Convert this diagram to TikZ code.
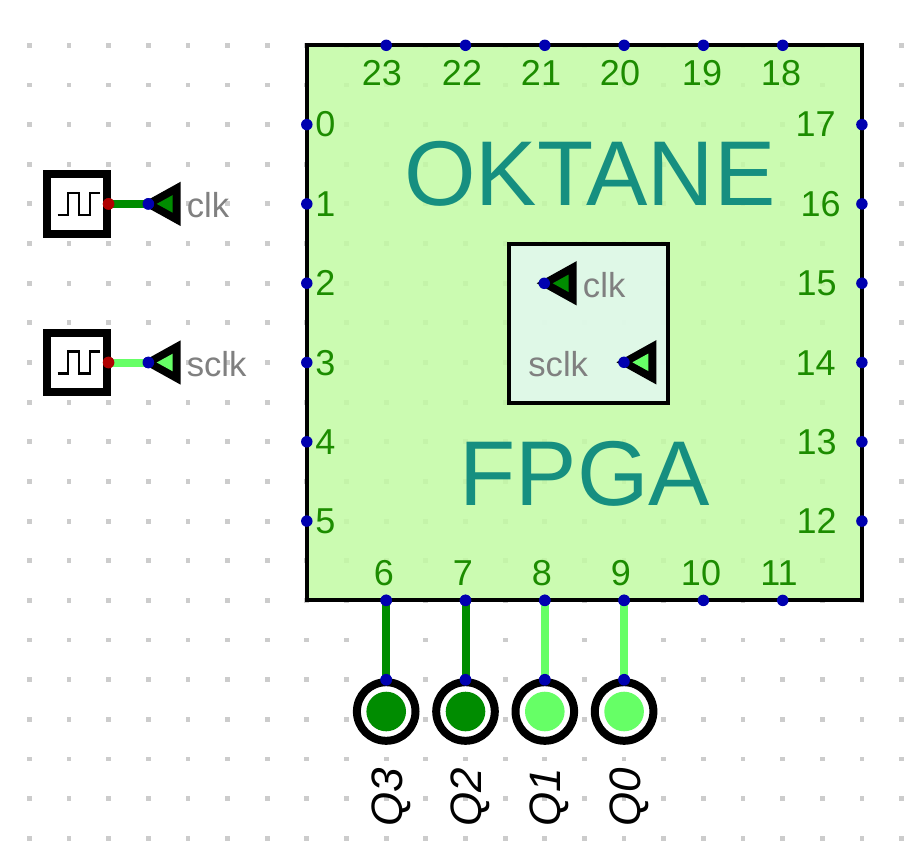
\documentclass[tikz,border=0pt]{standalone}
\usepackage{fontspec}
\setmainfont{Liberation Sans}
\definecolor{dimgrn}{RGB}{0,140,0}
\definecolor{litgrn}{RGB}{102,255,102}
\definecolor{pinblue}{RGB}{0,0,176}
\definecolor{pinred}{RGB}{176,0,0}
\definecolor{bodyfill}{RGB}{195,251,164}
\definecolor{panelfill}{RGB}{227,248,241}
\definecolor{numgrn}{RGB}{28,140,0}
\definecolor{titleteal}{RGB}{22,143,128}
\definecolor{griddot}{RGB}{204,204,204}
\definecolor{tunneltext}{RGB}{128,128,128}
\pgfdeclarelayer{wirelayer}
\pgfsetlayers{wirelayer,main}
\tikzset{
  x=0.75pt,y=-0.75pt,
  pinblue/.style={circle,fill=pinblue,draw=none,inner sep=0,minimum size=8.6pt},
  pinred/.style={circle,fill=pinred,draw=none,inner sep=0,minimum size=8.6pt},
  wire/.style={line width=6pt},
  num/.style={inner sep=0,text=numgrn,font=\fontsize{27}{27}\selectfont},
  title/.style={inner sep=0,anchor=base,text=titleteal,font=\fontsize{69}{69}\selectfont},
  tunlabel/.style={inner sep=0,text=tunneltext,font=\fontsize{26}{26}\selectfont},
  ledlabel/.style={inner sep=0,rotate=90,anchor=base,font=\fontsize{33}{33}\selectfont\itshape},
  pics/tunnel/.style={code={
    \fill[black] (-7.6,0) -- (32.4,-22.2) -- (32.4,22.2) -- cycle;
    \fill[#1] (8.4,0) -- (24.4,-8.8) -- (24.4,8.8) -- cycle;
  }},
  pics/clockgen/.style={code={
    \draw[line width=6pt,fill=white,miter limit=10] (-30,-29.7) rectangle (29.7,29.7);
    \draw[line width=2pt] (-19.5,11) -- (-9,11) -- (-9,-11) -- (2,-11) -- (2,11) -- (13,11) -- (13,-11) -- (23,-11);
  }},
  pics/led/.style={code={
    \draw[line width=6pt,fill=white] (0,0) circle (29.3);
    \fill[#1] (0,0) circle (19.8);
  }}
}
\begin{document}
\begin{tikzpicture}
\useasboundingbox[fill=white] (0,0) rectangle (921,845);
% grid
\foreach \i in {0,...,22}{\foreach \j in {0,...,20}{
  \fill[griddot] ({29.3+39.65*\i-2.4},{45.3+39.65*\j-2.4}) rectangle ++(4.8,4.8);
}}
% FPGA body
\draw[line width=3pt,fill=bodyfill,fill opacity=0.85] (306.8,45.3) rectangle (861.9,600.4);
\draw[line width=3pt,fill=panelfill,fill opacity=0.85] (509.3,243.7) rectangle (668,402.5);
\node[title] (oktane) at (590,205) {OKTANE};
\node[title] (fpga) at (585,505) {FPGA};
% FPGA pins, top
\foreach \n/\x/\lx in {23/386.2/382,22/465.5/462,21/544.8/541,20/624.1/620,19/703.4/702,18/782.7/781}{
  \node[pinblue] (p\n) at (\x,45.3) {};
  \node[num,anchor=base] (l\n) at (\lx,86) {\n};
}
% left
\foreach \n/\y/\ly in {0/124.6/137,1/203.9/216,2/283.2/295,3/362.5/375,4/441.8/454,5/521.1/533}{
  \node[pinblue] (p\n) at (306.8,\y) {};
  \node[num,anchor=base west] (l\n) at (315,\ly) {\n};
}
% right
\foreach \n/\y/\ly/\lx in {17/124.6/137/836,16/203.9/216/841,15/283.2/295/837,14/362.5/375/836,13/441.8/454/837,12/521.1/533/837}{
  \node[pinblue] (p\n) at (861.9,\y) {};
  \node[num,anchor=base east] (l\n) at (\lx,\ly) {\n};
}
% bottom
\foreach \n/\x/\lx in {6/386.2/384,7/465.5/463,8/544.8/542,9/624.1/621,10/703.4/701,11/782.7/779}{
  \node[pinblue] (p\n) at (\x,600.4) {};
  \node[num,anchor=base] (l\n) at (\lx,585) {\n};
}
% inner tunnels
\pic at (544.3,283.3) {tunnel=dimgrn};
\node[pinblue] (inclk) at (544.3,283.3) {};
\node[tunlabel,anchor=base west] (inclklabel) at (582.7,297) {clk};
\begin{scope}[shift={(624,362.3)},xscale=-1]
\pic at (0,0) {tunnel=litgrn};
\end{scope}
\node[pinblue] (insclk) at (624,362.3) {};
\node[tunlabel,anchor=base east] (insclklabel) at (588.3,376.6) {sclk};
% clock generators
\pic at (77,203.9) {clockgen};
\pic at (77,362.5) {clockgen};
\node[pinred] (clkout) at (108.6,203.9) {};
\node[pinred] (sclkout) at (108.6,362.5) {};
\pic at (148.3,203.9) {tunnel=dimgrn};
\pic at (148.3,362.5) {tunnel=litgrn};
\node[pinblue] (clktun) at (148.3,203.9) {};
\node[pinblue] (sclktun) at (148.3,362.5) {};
\node[tunlabel,anchor=base west] (clklabel) at (186.5,218) {clk};
\node[tunlabel,anchor=base west] (sclklabel) at (186.5,376.6) {sclk};
% LEDs
\pic at (386.2,711.5) {led=dimgrn};
\pic at (465.5,711.5) {led=dimgrn};
\pic at (544.8,711.5) {led=litgrn};
\pic at (624.1,711.5) {led=litgrn};
\node[pinblue] (q3) at (386.2,679.7) {};
\node[pinblue] (q2) at (465.5,679.7) {};
\node[pinblue] (q1) at (544.8,679.7) {};
\node[pinblue] (q0) at (624.1,679.7) {};
\node[ledlabel] (q3label) at (402,797) {Q3};
\node[ledlabel] (q2label) at (481,797) {Q2};
\node[ledlabel] (q1label) at (560.5,797) {Q1};
\node[ledlabel] (q0label) at (640,797) {Q0};
% wires
\begin{pgfonlayer}{wirelayer}
\end{pgfonlayer}
\draw[wire,dimgrn] (p6.center) -- (q3.center);
\draw[wire,dimgrn] (p7.center) -- (q2.center);
\draw[wire,litgrn] (p8.center) -- (q1.center);
\draw[wire,litgrn] (p9.center) -- (q0.center);
\draw[wire,dimgrn] (clkout.center) -- (clktun.center);
\draw[wire,litgrn] (sclkout.center) -- (sclktun.center);
% redraw the pins that the wires touch
\foreach \a in {p6,p7,p8,p9,q3,q2,q1,q0,clktun,sclktun}{\fill[pinblue] (\a.center) circle (5.8);}
\foreach \a in {clkout,sclkout}{\fill[pinred] (\a.center) circle (5.8);}
\end{tikzpicture}
\end{document}
